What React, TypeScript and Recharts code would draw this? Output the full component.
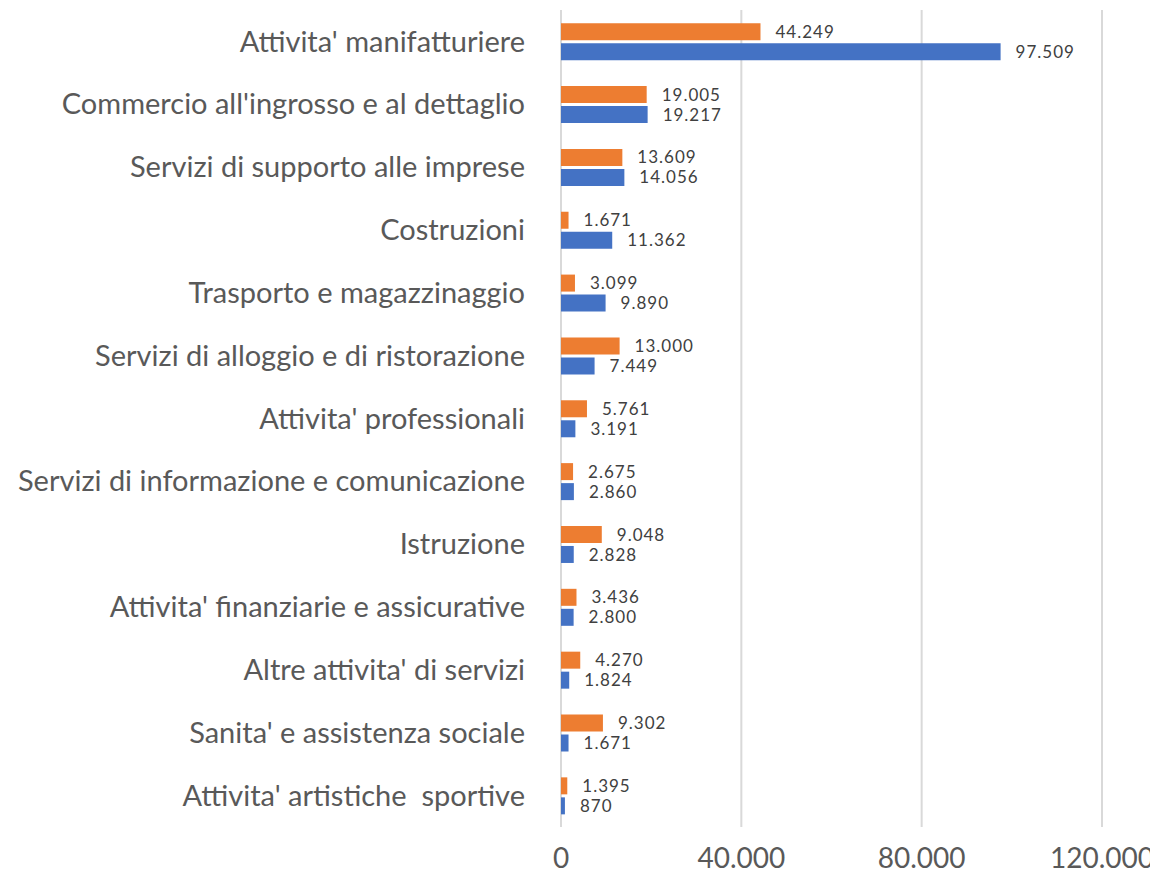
import React from 'react';
import { BarChart, Bar, XAxis, YAxis, CartesianGrid, LabelList } from 'recharts';

const categories = [
  "Attivita' manifatturiere",
  "Commercio all'ingrosso e al dettaglio",
  'Servizi di supporto alle imprese',
  'Costruzioni',
  'Trasporto e magazzinaggio',
  'Servizi di alloggio e di ristorazione',
  "Attivita' professionali",
  'Servizi di informazione e comunicazione',
  'Istruzione',
  "Attivita' finanziarie e assicurative",
  "Altre attivita' di servizi",
  "Sanita' e assistenza sociale",
  "Attivita' artistiche  sportive",
];

const orangeValues = [44249, 19005, 13609, 1671, 3099, 13000, 5761, 2675, 9048, 3436, 4270, 9302, 1395];
const blueValues = [97509, 19217, 14056, 11362, 9890, 7449, 3191, 2860, 2828, 2800, 1824, 1671, 870];

const xTicks = [0, 40000, 80000, 120000];

const data = categories.map((name, i) => ({
  name,
  orange: orangeValues[i],
  blue: blueValues[i],
}));

const fmt = (v: number) => String(v).replace(/\B(?=(\d{3})+(?!\d))/g, '.');

const FONT = 'Lato, "Open Sans", sans-serif';
const labelStyle = { fontSize: 17, fill: '#404040', fontFamily: FONT, letterSpacing: 1 };

// keeps the double space in the last label
const CategoryTick = (props: any) => {
  const { x, y, payload } = props;
  return (
    <text
      x={x - 34}
      y={y}
      dy="0.35em"
      textAnchor="end"
      fontSize={29}
      fill="#595959"
      fontFamily={FONT}
      style={{ whiteSpace: 'pre' }}
    >
      {payload.value}
    </text>
  );
};

export default function App() {
  return (
    <div style={{ width: 1150, height: 874, background: '#fff' }}>
      <BarChart
        width={1150}
        height={874}
        data={data}
        layout="vertical"
        margin={{ top: 2, right: 56, left: 0, bottom: 0 }}
        barCategoryGap="21%"
        barGap={3}
      >
        <CartesianGrid horizontal={false} stroke="#d9d9d9" strokeWidth={2} />
        <XAxis
          type="number"
          domain={[0, 120000]}
          ticks={xTicks}
          tickFormatter={fmt}
          axisLine={false}
          tickLine={false}
          tickSize={0}
          tickMargin={21}
          height={55}
          tick={{ fontSize: 28, fill: '#595959', fontFamily: FONT }}
        />
        <YAxis
          type="category"
          dataKey="name"
          width={553}
          axisLine={false}
          tickLine={false}
          tickSize={0}
          interval={0}
          tick={<CategoryTick />}
        />
        <Bar dataKey="orange" fill="#ED7D31" isAnimationActive={false}>
          <LabelList
            dataKey="orange"
            position="right"
            offset={15}
            formatter={(v: number) => fmt(v)}
            style={labelStyle}
          />
        </Bar>
        <Bar dataKey="blue" fill="#4472C4" isAnimationActive={false}>
          <LabelList
            dataKey="blue"
            position="right"
            offset={15}
            formatter={(v: number) => fmt(v)}
            style={labelStyle}
          />
        </Bar>
      </BarChart>
    </div>
  );
}
